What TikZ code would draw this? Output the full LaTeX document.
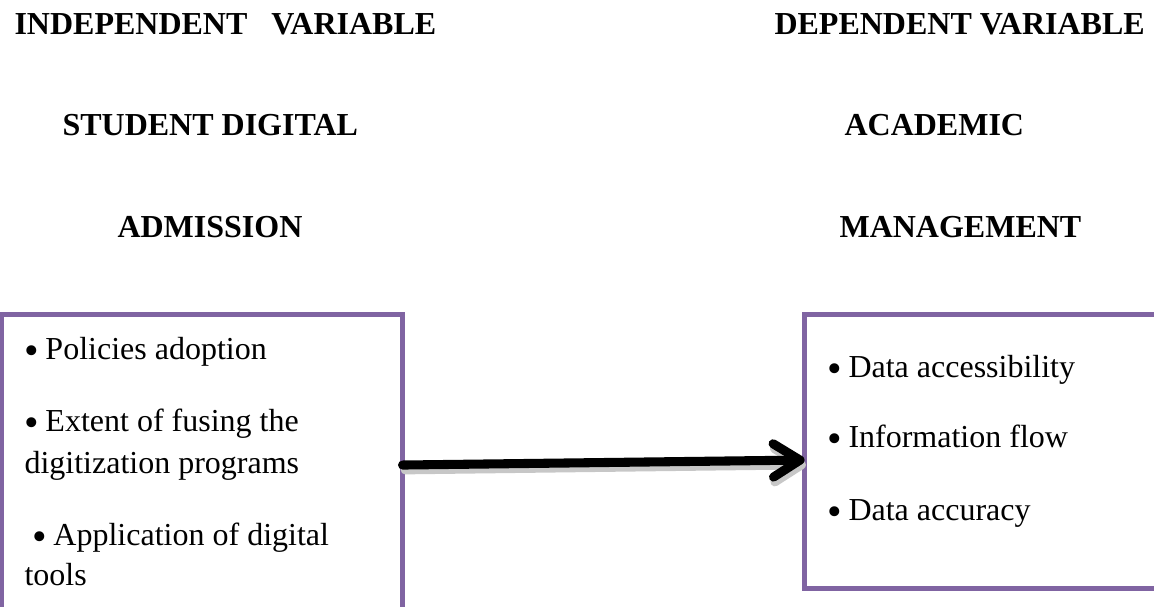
\documentclass[tikz,border=0pt]{standalone}
\usepackage{fontspec}
\usepackage{graphicx}
\setmainfont{Liberation Serif}
\usetikzlibrary{arrows.meta,positioning}

\definecolor{boxpurple}{HTML}{8064A2}

% larger list bullet
\newcommand\itembullet{\raisebox{-2.2pt}{\scalebox{1.3}{\textbullet}}\hspace{2.4pt}}

\tikzset{
  heading/.style={anchor=base west, inner sep=0pt, font=\fontsize{12}{15.75}\selectfont\bfseries},
  item/.style={anchor=base west, inner sep=0pt, font=\fontsize{12}{15.75}\selectfont},
  varbox/.style={draw=boxpurple, line width=1.7pt, rectangle, anchor=north west, inner sep=0pt, outer sep=0pt},
  flow/.style={line width=3.4pt, line cap=round, -{Straight Barb[round, length=10pt, width=12.5pt]}}
}

\begin{document}
\begin{tikzpicture}[x=0.375pt,y=-0.375pt]

%%% HELP LINES - uncomment to design/extend
% \draw[step=100,gray,very thin] (0,0) grid (1154,606);

\useasboundingbox (0,0) rectangle (1154,606);

%% Headings, left side
\node[heading] (ivhead) at (14,35) {INDEPENDENT\ \ \ VARIABLE};
\node[heading] (ivname1) at (62,135) {STUDENT DIGITAL};
\node[heading] (ivname2) at (117,237) {ADMISSION};

%% Headings, right side
\node[heading] (dvhead) at (774,35) {DEPENDENT VARIABLE};
\node[heading] (dvname1) at (844,135) {ACADEMIC};
\node[heading] (dvname2) at (839,237) {MANAGEMENT};

%% Boxes (both run off the page)
\node[varbox, minimum width=150.2pt, minimum height=112.9pt] (ivbox) at (2,314.5) {};
\node[varbox, minimum width=148.3pt, minimum height=102.75pt] (dvbox) at (804.5,314.5) {};

%% Independent items
\node[item] (iva) at (24,359) {\itembullet Policies adoption};
\node[item] (ivb) at (24,431) {\itembullet Extent of fusing the};
\node[item] (ivb2) at (24,473) {digitization programs};
\node[item] (ivc) at (32,545) {\itembullet Application of digital};
\node[item] (ivc2) at (24,585) {tools};

%% Dependent items
\node[item] (dva) at (827,377) {\itembullet Data accessibility};
\node[item] (dvb) at (827,447) {\itembullet Information flow};
\node[item] (dvc) at (827,520) {\itembullet Data accuracy};

%% Arrow with its shadow
\draw[flow, black!22] ([xshift=1pt,yshift=-1.8pt]ivbox.east) -- ([xshift=0.5pt,yshift=-5pt]dvbox.west);
\draw[flow] (ivbox.east) -- ([yshift=-3.2pt]dvbox.west);

\end{tikzpicture}
\end{document}
